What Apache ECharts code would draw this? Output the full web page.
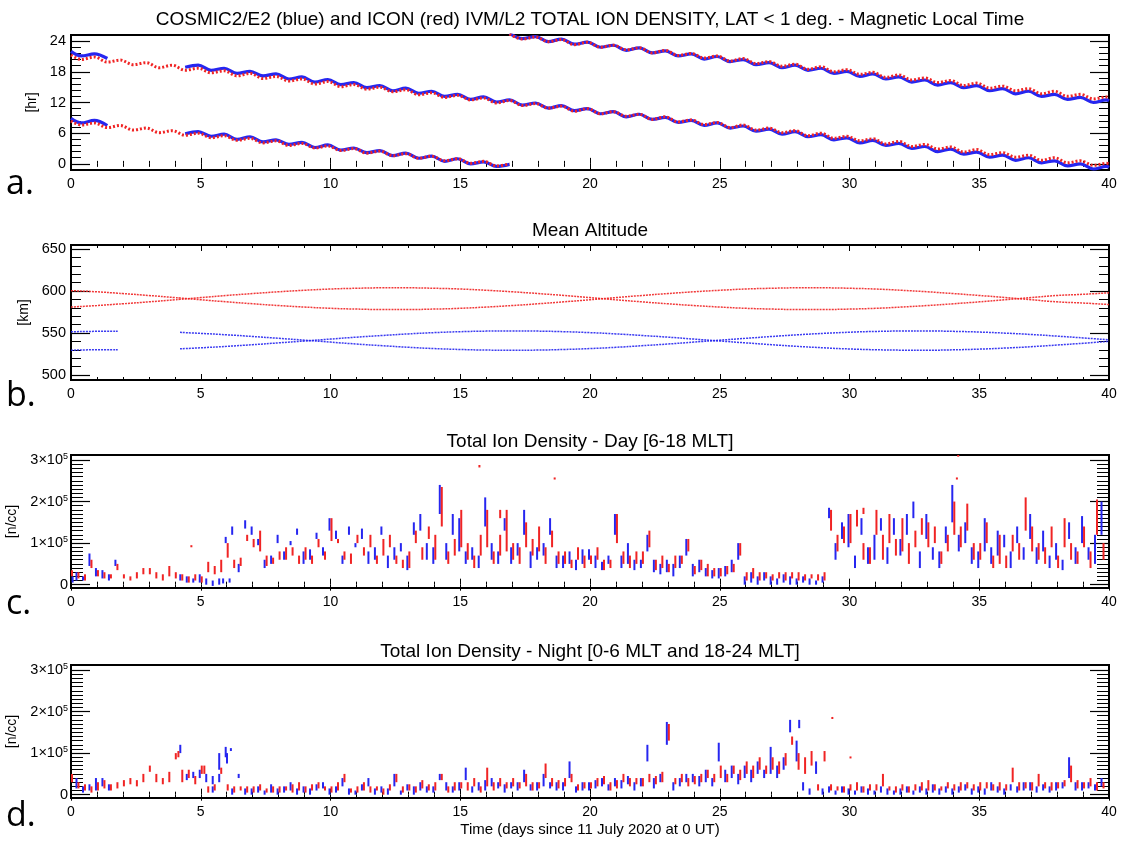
<!DOCTYPE html>
<html><head><meta charset="utf-8">
<script src="https://cdn.jsdelivr.net/npm/echarts@6.0.0/dist/echarts.min.js"></script>
<style>html,body{margin:0;padding:0;background:#fff}#c{width:1121px;height:843px}</style>
</head><body><div id="c"></div>
<script>
// ---------------- DATA ----------------
const xTicks = [0,5,10,15,20,25,30,35,40];
// Panel a: Magnetic local time (hr); samples at wiggle troughs/peaks
const tMLT = [0,0.4,0.9,1.4,1.9,2.4,2.9,3.4,3.9,4.4,4.9,5.4,5.9,6.4,6.9,7.4,7.9,8.4,8.9,9.4,9.9,10.4,10.9,11.4,11.9,12.4,12.9,13.4,13.9,14.4,14.9,15.4,15.9,16.4,16.9,17.4,17.9,18.4,18.9,19.4,19.9,20.4,20.9,21.4,21.9,22.4,22.9,23.4,23.9,24.4,24.9,25.4,25.9,26.4,26.9,27.4,27.9,28.4,28.9,29.4,29.9,30.4,30.9,31.4,31.9,32.4,32.9,33.4,33.9,34.4,34.9,35.4,35.9,36.4,36.9,37.4,37.9,38.4,38.9,39.4,39.9,40];
const mltBlueA = [22.0, 21.1,21.5, 20.6,null, null,null, null,null, 18.9,19.3, 18.3,18.7, 17.7,18.1, 17.2,17.6, 16.6,17.0, 16.0,16.5, 15.5,15.9, 14.9,15.3, 14.3,14.8, 13.8,14.2, 13.2,13.6, 12.6,13.1, 12.1,12.5, 11.5,11.9, 10.9,11.4, 10.4,10.8, 9.8,10.2, 9.2,9.7, 8.7,9.1, 8.1,8.5, 7.5,8.0, 7.0,7.4, 6.4,6.8, 5.8,6.3, 5.3,5.7, 4.7,5.1, 4.1,4.6, 3.6,4.0, 3.0,3.4, 2.4,2.9, 1.9,2.3, 1.3,1.7, 0.7,1.2, 0.2,0.6, -0.4,0.0, -1.0,-0.5, -0.7];
const mltRedA = [21.3, 20.4,20.9, 19.9,20.3, 19.4,19.8, 18.8,19.3, 18.3,18.7, 17.8,18.2, 17.2,17.7, 16.7,17.1, 16.2,16.6, 15.6,16.1, 15.1,15.5, 14.6,15.0, 14.1,14.5, 13.5,13.9, 13.0,13.4, 12.5,12.9, 11.9,12.4, 11.4,11.8, 10.9,11.3, 10.3,10.8, 9.8,10.2, 9.3,9.7, 8.7,9.2, 8.2,8.6, 7.7,8.1, 7.1,7.6, 6.6,7.0, 6.1,6.5, 5.5,6.0, 5.0,5.4, 4.5,4.9, 3.9,4.4, 3.4,3.8, 2.9,3.3, 2.3,2.8, 1.8,2.2, 1.3,1.7, 0.7,1.2, 0.2,0.6, -0.3,0.1, 0.0];
const mltBlueB = [8.9, 8.0,8.5, 7.5,null, null,null, null,null, 5.9,6.3, 5.4,5.8, 4.8,5.3, 4.3,4.7, 3.8,4.2, 3.2,3.7, 2.7,3.1, 2.2,2.6, 1.6,2.1, 1.1,1.5, 0.5,1.0, 0.0,0.4, -0.5,-0.1,
  null,null,null,null,null,null,null,null,null,null,null,null,null,null,null,null,null,null,null,null,null,null,null,null,null,null,null,null,null,null,null,null,null,null,null,null,null,null,null,null,null,null,null,null,null,null,null];
const mltRedB = [8.4, 7.6,8.0, 7.1,7.5, 6.6,7.0, 6.1,6.5, 5.6,6.0, 5.1,5.5, 4.6,5.0, 4.1,4.5, 3.6,4.0, 3.1,3.5, 2.6,3.0, 2.1,2.5, 1.6,2.0, 1.1,1.5, 0.6,1.0, 0.1,0.5, -0.4,0.0,
  null,null,null,null,null,null,null,null,null,null,null,null,null,null,null,null,null,null,null,null,null,null,null,null,null,null,null,null,null,null,null,null,null,null,null,null,null,null,null,null,null,null,null,null,null,null,null];
const mltBlueC = [null, null,null,null,null,null,null,null,null,null,null,null,null,null,null,null,null,null,null,null,null,null,null,null,null,null,null,null,null,null,null,null,null,
  null,25.5, 24.5,24.9, 23.9,24.4, 23.4,23.8, 22.8,23.2, 22.2,22.7, 21.7,22.1, 21.1,21.5, 20.5,21.0, 20.0,20.4, 19.4,19.8, 18.8,19.3, 18.3,18.7, 17.7,18.1, 17.1,17.6, 16.6,17.0, 16.0,16.4, 15.4,15.9, 14.9,15.3, 14.3,14.7, 13.7,14.2, 13.2,13.6, 12.6,13.0, 12.0,12.5, 12.3];
const mltRedC = [null, null,null,null,null,null,null,null,null,null,null,null,null,null,null,null,null,null,null,null,null,null,null,null,null,null,null,null,null,null,null,null,null,
  null,25.4, 24.4,24.8, 23.9,24.3, 23.3,23.8, 22.8,23.2, 22.3,22.7, 21.7,22.2, 21.2,21.6, 20.7,21.1, 20.1,20.6, 19.6,20.0, 19.1,19.5, 18.5,19.0, 18.0,18.4, 17.5,17.9, 16.9,17.4, 16.4,16.8, 15.9,16.3, 15.3,15.8, 14.8,15.2, 14.3,14.7, 13.7,14.2, 13.2,13.6, 12.7,13.1, 13.0];
const mltTickLabels = [0,6,12,18,24];
const mltMinor = [1.2,2.4,3.6,4.8,7.2,8.4,9.6,10.8,13.2,14.4,15.6,16.8,19.2,20.4,21.6,22.8];

// Panel b: mean altitude (km)
const altT = [0,1,1.8,2,3,4,4.2,5,6,7,8,9,10,11,12,13,14,15,16,17,18,19,20,21,22,23,24,25,26,27,28,29,30,31,32,33,34,35,36,37,38,39,40];
const altRed1 = [600.5,599.2,597.5,597.1,594.8,592.3,591.8,589.7,587.2,584.9,582.8,581.0,579.5,578.6,578.1,578.1,578.6,579.5,581.0,582.8,584.9,587.2,589.7,592.3,594.8,597.1,599.2,601.0,602.5,603.4,603.9,603.9,603.4,602.5,601.0,599.2,597.1,594.8,592.3,589.7,587.2,585.8,584.0];
const altRed2 = [581.0,582.8,584.5,584.9,587.2,589.7,590.2,592.3,594.8,597.1,599.2,601.0,602.5,603.4,603.9,603.9,603.4,602.5,601.0,599.2,597.1,594.8,592.3,589.7,587.2,584.9,582.8,581.0,579.5,578.6,578.1,578.1,578.6,579.5,581.0,582.8,584.9,587.2,589.7,592.3,594.8,596.2,598.0];
const altBlue1 = [551.5,552.0,552.0,null,null,null,550.8,549.6,547.9,545.9,543.7,541.5,539.2,536.9,534.9,533.0,531.5,530.4,529.7,529.5,529.7,530.4,531.5,533.0,534.9,536.9,539.2,541.5,543.7,545.9,547.9,549.6,551.0,551.9,552.4,552.5,552.0,551.2,549.9,548.3,546.3,544.2,541.9];
const altBlue2 = [529.5,530.0,530.0,null,null,null,531.2,532.4,534.1,536.1,538.3,540.5,542.8,545.1,547.1,549.0,550.5,551.6,552.3,552.5,552.3,551.6,550.5,549.0,547.1,545.1,542.8,540.5,538.3,536.1,534.1,532.4,531.0,530.1,529.6,529.5,530.0,530.8,532.1,533.7,535.7,537.8,540.1];
const altTickLabels = [500,550,600,650];
const altMinor = [510,520,530,540,560,570,580,590,610,620,630,640];

// Panels c, d: total ion density, streak [low, high] in units of 1e4 n/cc
const tDens = [0,0.25,0.5,0.75,1,1.25,1.5,1.75,2,2.25,2.5,2.75,3,3.25,3.5,3.75,4,4.25,4.5,4.75,5,5.25,5.5,5.75,6,6.25,6.5,6.75,7,7.25,7.5,7.75,8,8.25,8.5,8.75,9,9.25,9.5,9.75,10,10.25,10.5,10.75,11,11.25,11.5,11.75,12,12.25,12.5,12.75,13,13.25,13.5,13.75,14,14.25,14.5,14.75,15,15.25,15.5,15.75,16,16.25,16.5,16.75,17,17.25,17.5,17.75,18,18.25,18.5,18.75,19,19.25,19.5,19.75,20,20.25,20.5,20.75,21,21.25,21.5,21.75,22,22.25,22.5,22.75,23,23.25,23.5,23.75,24,24.25,24.5,24.75,25,25.25,25.5,25.75,26,26.25,26.5,26.75,27,27.25,27.5,27.75,28,28.25,28.5,28.75,29,29.25,29.5,29.75,30,30.25,30.5,30.75,31,31.25,31.5,31.75,32,32.25,32.5,32.75,33,33.25,33.5,33.75,34,34.25,34.5,34.75,35,35.25,35.5,35.75,36,36.25,36.5,36.75,37,37.25,37.5,37.75,38,38.25,38.5,38.75,39,39.25,39.5,39.75];
const dayBlue = [
 [1.5,4.5],[1,3],[1,2],[4.5,7.5],  [2,4],[1.5,3.5],[1,2.5],[4.5,6],
 null,null,null,null,  null,null,null,null,
 null,[1,2.5],[0.5,2],[0.5,1.5],  [0.5,2.5],[0,1.5],[-0.3,1],[0,1.5],
 [10,11.5],[12,14],[3,5],[13.5,15.5],  [12,14],[9.5,11],[4,6],[5,7],
 [10,12],[6,8],[9.5,10.5],[12,13.5],  [5,8],[6,8.5],[11,12.5],[7,9],
 [13,16],[11,13],[5,7],[12,14],  [9,10],[11,13.5],[5,8],[6,9],
 [12,14],[4,7],[6,9],[8,10],  [3.5,7],[12,15],[13,17],[6,10],
 [5,9],[17,24],[6,10],[12,17],  [8,16],[5,8],[6,9],[4,7],
 [14,21],[6,10],[5,8],[13,16],  [5,9],[7,10],[12,18],[4,8],
 [6,9],[7,10],[12,16],[4,7],  [4,7],[5,8],[3.5,6],[5,8.5],
 [6,8.5],[4,7],[3.5,5.5],[5,7],  [12,17],[4,7],[5,10],[3.5,6],
 [4,6],[8,12],[3,6],[2.5,5],  [3,6],[2,5],[4,7],[7,11],
 [2,5],[3,6],[2,4],[1.5,3.5],  [1.5,4],[2,4.5],[3,6],[6,10],
 [0,2],[0.5,3],[0,2],[1,3],  [0,2],[0,1.5],[0.5,2.5],[0,2],
 [0,1.5],[0.5,2],[0,1.5],[0,1],  [0.5,2],[16,18.5],[6,10],[11,15],
 [9,17],[4,7],[12,16],[5,9],  [6,12],[13,16],[5,9],[12,16],
 [7,11],[12,17],[16,20],[4,8],  [11,17],[6,9],[4,8],[10,14],
 [15,24],[8,12],[10,15],[5,9],  [4,8],[8,16],[5,9],[7,13],
 [9,12],[4,8],[10,14],[6,9],  [11,17],[5,9],[8,13],[4,7],
 [6,10],[3.5,6],[11,15],[5,9],  [10,16.5],[6,9],[5,12],[12,20]
];
const dayRed = [
 [2,3.5],[1.5,3],[1,2.5],[4,6],  [2,3.5],[1.5,3],[1.5,2.5],[3.5,5],
 [1.5,2.5],[1,2],[1.5,3],[2.5,4],  [2.5,4],[1.5,3],[1,2.5],[2,4.5],
 [1.5,3],[1,2.5],[0.5,2],[1,2.5],  [0.5,2],[3,5.5],[2.5,4.5],[3,6],
 [6.5,10],[4,6],[4.5,6.5],[10.5,12],  [9,11],[8,13],[4.5,7],[5,6.5],
 [6,8],[6,9],[7,9],[5,7],  [6,9],[5,7],[9,11],[6,8],
 [10.5,16],[10,11],[6,8],[5,7.5],  [10,12],[7,9],[9,12],[5,7],
 [7,11],[9,12],[5,7],[4,6],  [4,8],[10,13],[6,9],[11,14],
 [6,12],[14,23.5],[5,8],[7,11],  [9,18],[6,10],[4,7],[7,12],
 [9,18],[5,8],[7,12],[8,18],  [6,10],[5,9],[9,15],[7,11],
 [8,14],[5,9],[9,13],[5,8],  [5,8],[4,6],[6,9],[4,7],
 [5,7],[6,9],[3.5,6],[4,6],  [10,17],[5,8],[4,7],[5,8],
 [5,8],[9,13],[3.5,6],[4,7],  [3,5],[4,7],[5,7],[8,11],
 [2.5,4.5],[3.5,6],[2,5],[2,4],  [2,4],[2.5,4.5],[3,5],[7,10],
 [1,3],[1.5,4],[1,3],[1.5,3],  [1,2.5],[1.5,3],[1,3],[1.5,3],
 [1,3],[1,2.5],[1.5,2.5],[1,2.5],  [1,3],[13,18],[8,12],[10,14],
 [10,17],[14,18],[6,10],[5,9],  [12,18],[6,12],[10,17],[7,11],
 [8,16],[5,10],[9,13],[12,16],  [9,15],[10,14],[5,8],[8,12],
 [12,20],[9,14],[13,19.5],[6,10],  [6,10],[10,15],[4,7],[5,12],
 [4,7],[8,12],[6,10],[13,21],  [8,14],[6,10],[5,9],[9,14],
 [4,7],[9,16],[6,10],[5,8],  [9,14],[4,8],[12,20.5],[6,10]
];
const nightBlue = [
 [3.5,7],[1.5,4],[0.5,2],[1,2.5],  [1,4],[2,4],[1,2.5],null,
 null,null,null,null,  null,null,null,null,
 null,[10,12],[3.5,5],[4,5.5],  [4,6],[3,5],[0.5,2],[6,10],
 [9,11.5],[0,1.5],[4,5],[0,1.5],  [0,1.5],[0.5,2],[0,1],[0.5,2.5],
 [0,1.5],[0.5,2],[1,3],[0,1.5],  [0.5,2],[0,1.5],[1,2.5],[1.5,3],
 [0,1.5],[0.5,2],[2,4],[0,1.5],  [0,1],[1,2.5],[2,4],[0,1.5],
 [0.5,2],[0,1.5],[2,5],[0,1],  [1,2.5],[0,2],[1,3],[0.5,2],
 [0.5,2],[3.5,5],[1,3],[0.5,2],  [1,3],[3.5,6.5],[0.5,2],[1,3],
 [1,3.5],[2,4],[1.5,3],[0.5,2.5],  [1.5,3],[1,3],[3,6],[1,2.5],
 [1,3],[2,5],[1.5,3],[1,3],  [1,3],[4,8],[0.5,2],[1,3],
 [1,3],[1.5,3.5],[2,4],[1,2.5],  [2,4],[1.5,3.5],[2.5,4.5],[1,3],
 [2,4],[8,12],[1.5,4],[3,5],  [12,17.5],[1,3],[2,4],[3,5],
 [3,5],[2,4.5],[3,6],[2,4],  [8,12.5],[3,6],[4,7],[2.5,5],
 [4,7],[3,6],[5,8],[4,6],  [5,11.5],[4,7],[6,9],[15,18],
 [8,13],[1,3],[0,1.5],[5,8],  [0,1.5],[0.5,2],[0,1],[0.5,2],
 [0,1.5],[0,1],[0.5,2],[0,1.5],  [0,1],[0.5,2],[0,1.5],[0,1],
 [0,1.5],[0.5,2],[0,1],[0.5,2],  [0,1.5],[0.5,2.5],[0,1.5],[0.5,2],
 [0,1.5],[0.5,2],[1,2.5],[0,1.5],  [0.5,2],[0,1.5],[1,3],[0.5,2],
 [0,1.5],[1,2.5],[0.5,2],[1,3],  [1,3],[0.5,2],[1,2.5],[0.5,2],
 [1,3],[1.5,3],[4,9],[1,3],  [1,3],[1.5,3],[1,2.5],[2,4]
];
const nightRed = [
 [3,5],[1.5,3],[1,2.5],[0.5,2],  [1,3],[1.5,3.5],[1,2.5],[1.5,3],
 [2,3.5],[2.5,4],[2,3.5],[3,5],  [5.5,7],[3,5],[2.5,4],[3,5.5],
 [8.5,10],[3,6],[4,6],[2.5,4.5],  [5,7],[0.5,2],[1,2.5],[5,6.5],
 [1,2.5],[0.5,2],[1,2],[0.5,2],  [0.5,2],[1,2.5],[0.5,1.5],[0.5,2],
 [0.5,2],[1,2],[0.5,2.5],[1,3],  [0.5,2],[1,2.5],[1.5,3],[1,2],
 [0.5,2],[1,3],[3,5],[0.5,1.5],  [0.5,2],[1,3],[0.5,2],[1,2],
 [0,1.5],[1,2.5],[3,5],[0.5,2],  [1,2.5],[0.5,2],[1.5,3.5],[1,2.5],
 [1,3],[3.5,5],[0.5,2],[1,3],  [1.5,3],[1,3],[2,4],[0.5,2],
 [2,6.5],[1,3],[2,4],[1.5,3],  [2,4],[1.5,3],[2,5],[1,3],
 [1.5,3],[4,7.5],[2,4],[1.5,3.5],  [2,4],[3,5],[1,2.5],[1.5,3],
 [1.5,3],[2,4],[2.5,4.5],[1,3],  [1.5,3.5],[3,5],[2,4],[2.5,4],
 [2,4],[3,5],[2.5,4.5],[3,5.5],  [13,17],[2.5,4],[3,5],[2,4],
 [2.5,4.5],[3,5],[4,6],[3,5],  [4,7],[3,5],[5,7],[3.5,6],
 [5,8],[4,7],[6,9],[5,7],  [6,9],[5,8],[7,10],[12,14],
 [6,10],[5,9],[7,10.5],[1,2.5],  [8,10.5],[1,2.5],[1,2],[0.5,2],
 [1,2.5],[1,3],[0.5,2],[1,2.5],  [1,2.5],[2,5],[1,2],[0.5,2],
 [1,2.5],[0.5,2],[1,2.5],[1,3],  [1,3.5],[1,2.5],[1,2],[1.5,3],
 [1,2.5],[1,3],[1.5,3],[1,2.5],  [1,3],[1.5,3],[1,2.5],[1,3],
 [1,2.5],[3,6.5],[1,3],[1.5,3],  [1,3],[2,5],[1.5,3],[1,3],
 [1.5,3],[2,3.5],[3,7],[1.5,3.5],  [1.5,3],[2,4],[1,3],[1.5,3]
];
// extra isolated streaks/dots [day, low, high] (1e4 n/cc)
const dayBlueExtra = [[5.9,0.3,1.5],[6.15,0.5,1.5],[0.1,0.5,2]];
const dayRedExtra = [[4.6,9.0,9.5],[15.7,28.2,28.8],[18.6,25.3,25.8],[34.15,30.8,31.3],[34.1,25.3,25.8],[16.5,16,18],[30.5,17,18.5]];
const nightBlueExtra = [[5.5,2.5,4.5],[5.75,3,5],[6.05,7.5,10],[6.2,10.5,11.2],[28.1,16,18]];
const nightRedExtra = [[5.1,5,7],[29.3,18.2,18.7],[30.0,8.8,9.2],[4.1,9,10.5]];
const densTickLabels = [0,100000,200000,300000];
const densMinor = [10000,20000,30000,40000,50000,60000,70000,80000,90000,110000,120000,130000,140000,150000,160000,170000,180000,190000,210000,220000,230000,240000,250000,260000,270000,280000,290000,300000];

// ---------------- CHART ----------------
const FONT = "'Liberation Sans', Arial, Helvetica, sans-serif";
const BLUE = '#2626f0', RED = '#f02424';
const chart = echarts.init(document.getElementById('c'), null, {renderer:'canvas'});

const panels = [
  {top:35, height:135, min:-1.2, max:25.2, major:mltTickLabels, minor:mltMinor, name:'[hr]', nameGap:28, minorLen:10, fmt:v=>String(v)},
  {top:245, height:135, min:494, max:655, major:altTickLabels, minor:altMinor, name:'[km]', nameGap:37, minorLen:10, fmt:v=>String(v)},
  {top:455, height:133, min:-8000, max:312000, major:densTickLabels, minor:densMinor, name:'[n/cc]', nameGap:48, minorLen:12, fmt:null},
  {top:665, height:133, min:-8000, max:312000, major:densTickLabels, minor:densMinor, name:'[n/cc]', nameGap:48, minorLen:12, fmt:null}
];
const supFmt = v => v === 0 ? '{a|0}' : '{a|' + Math.round(v/1e5) + '×10}{s|5}';
const grids=[], xAxes=[], yAxes=[];
panels.forEach((p,g)=>{
  grids.push({left:71, width:1038, top:p.top, height:p.height, containLabel:false, outerBoundsMode:'none',
    show:true, borderColor:'#000', borderWidth:2, backgroundColor:'transparent'});
  const xBase = {type:'value', gridIndex:g, min:0, max:40, interval:5, splitLine:{show:false}, axisLine:{show:false},
     axisTick:{inside:true, length:6, lineStyle:{color:'#000', width:1}},
     minorTick:{show:true, splitNumber:5, length:3, lineStyle:{color:'#000', width:1}}, minorSplitLine:{show:false}};
  xAxes.push(Object.assign({}, xBase, {position:'bottom', axisLabel:{show:true, margin:7, color:'#000', fontSize:14, fontFamily:FONT, customValues:xTicks}}));
  xAxes.push(Object.assign({}, xBase, {position:'top', axisLabel:{show:false}}));
  const yBase = {type:'value', gridIndex:g, min:p.min, max:p.max, splitLine:{show:false}, axisLine:{show:false}};
  const lab = p.fmt ? {show:true, customValues:p.major, formatter:p.fmt, margin:5, color:'#000', fontSize:14.5, fontFamily:FONT}
    : {show:true, customValues:p.major, formatter:supFmt, margin:3, color:'#000',
       rich:{a:{fontSize:14.5, fontFamily:FONT, color:'#000'}, s:{fontSize:9, fontFamily:FONT, color:'#000', verticalAlign:'top', padding:[0,0,7,0]}}};
  yAxes.push(Object.assign({}, yBase, {position:'left', axisLabel:lab, axisTick:{inside:true, length:19, customValues:p.major, lineStyle:{color:'#000',width:1.2}},
     name:p.name, nameLocation:'middle', nameGap:p.nameGap, nameTextStyle:{fontSize:14, fontFamily:FONT, color:'#000'}}));
  yAxes.push(Object.assign({}, yBase, {position:'left', axisLabel:{show:false}, axisTick:{inside:true, length:p.minorLen, customValues:p.minor, lineStyle:{color:'#000',width:1}}}));
  yAxes.push(Object.assign({}, yBase, {position:'right', axisLabel:{show:false}, axisTick:{inside:true, length:19, customValues:p.major, lineStyle:{color:'#000',width:1.2}}}));
  yAxes.push(Object.assign({}, yBase, {position:'right', axisLabel:{show:false}, axisTick:{inside:true, length:p.minorLen, customValues:p.minor, lineStyle:{color:'#000',width:1}}}));
});

const series = [];
function mltLine(arr, color, width, dash, z){
  series.push({type:'line', xAxisIndex:0, yAxisIndex:0, data:tMLT.map((t,i)=>[t, arr[i]]), symbol:'none', smooth:0.35,
    connectNulls:false, clip:true, z:z, lineStyle:{color, width, type:dash}, silent:true});
}
mltLine(mltBlueA, BLUE, 3.2, 'solid', 2); mltLine(mltBlueB, BLUE, 3.2, 'solid', 2); mltLine(mltBlueC, BLUE, 3.2, 'solid', 2);
mltLine(mltRedA, RED, 3, [2,2], 3); mltLine(mltRedB, RED, 3, [2,2], 3); mltLine(mltRedC, RED, 3, [2,2], 3);

function altLine(arr, color){
  series.push({type:'line', xAxisIndex:2, yAxisIndex:4, data:altT.map((t,i)=>[t, arr[i]]), symbol:'none', smooth:true,
    connectNulls:false, clip:true, lineStyle:{color, width:1.5, type:[2,1], opacity:0.9}, silent:true});
}
altLine(altRed1, RED); altLine(altRed2, RED); altLine(altBlue1, BLUE); altLine(altBlue2, BLUE);

function streaks(g, pairs, extra, color, dx, z){
  const data = [];
  tDens.forEach((t,i)=>{ const p = pairs[i]; if (p) data.push([t, p[0]*1e4, p[1]*1e4]); });
  extra.forEach(e=>data.push([e[0], e[1]*1e4, e[2]*1e4]));
  series.push({type:'custom', xAxisIndex:2*g, yAxisIndex:4*g, clip:true, z:z, silent:true, data,
    encode:{x:0, y:[1,2]},
    renderItem:(params, api)=>{
      const a = api.coord([api.value(0), api.value(1)]), b = api.coord([api.value(0), api.value(2)]);
      return {type:'rect', shape:{x:a[0]-1+dx, y:b[1], width:2, height:Math.max(2, a[1]-b[1])}, style:{fill:color}};
    }});
}
streaks(2, dayBlue, dayBlueExtra, BLUE, -1, 2); streaks(2, dayRed, dayRedExtra, RED, 1, 3);
streaks(3, nightBlue, nightBlueExtra, BLUE, -1, 2); streaks(3, nightRed, nightRedExtra, RED, 1, 3);

const titleStyle = (text, y, size) => ({type:'text', x:590, y:y, style:{text, fontSize:size, fontFamily:FONT, fill:'#000', textAlign:'center', textVerticalAlign:'middle'}});
const panelLab = (text, y) => ({type:'text', x:6, y:y, style:{text, fontSize:34, fontFamily:"'Open Sans', 'Liberation Sans', sans-serif", fill:'#000', textAlign:'left', textVerticalAlign:'middle'}});
const graphic = [
  titleStyle('COSMIC2/E2 (blue) and ICON (red) IVM/L2 TOTAL ION DENSITY, LAT < 1 deg. - Magnetic Local Time', 20, 19),
  titleStyle('Mean Altitude', 231, 19),
  titleStyle('Total Ion Density - Day [6-18 MLT]', 442, 19),
  titleStyle('Total Ion Density - Night [0-6 MLT and 18-24 MLT]', 652, 19),
  titleStyle('Time (days since 11 July 2020 at 0 UT)', 830, 15),
  panelLab('a.', 184), panelLab('b.', 396), panelLab('c.', 604), panelLab('d.', 816)
];

chart.setOption({animation:false, backgroundColor:'#fff', grid:grids, xAxis:xAxes, yAxis:yAxes, series, graphic});
</script></body></html>
